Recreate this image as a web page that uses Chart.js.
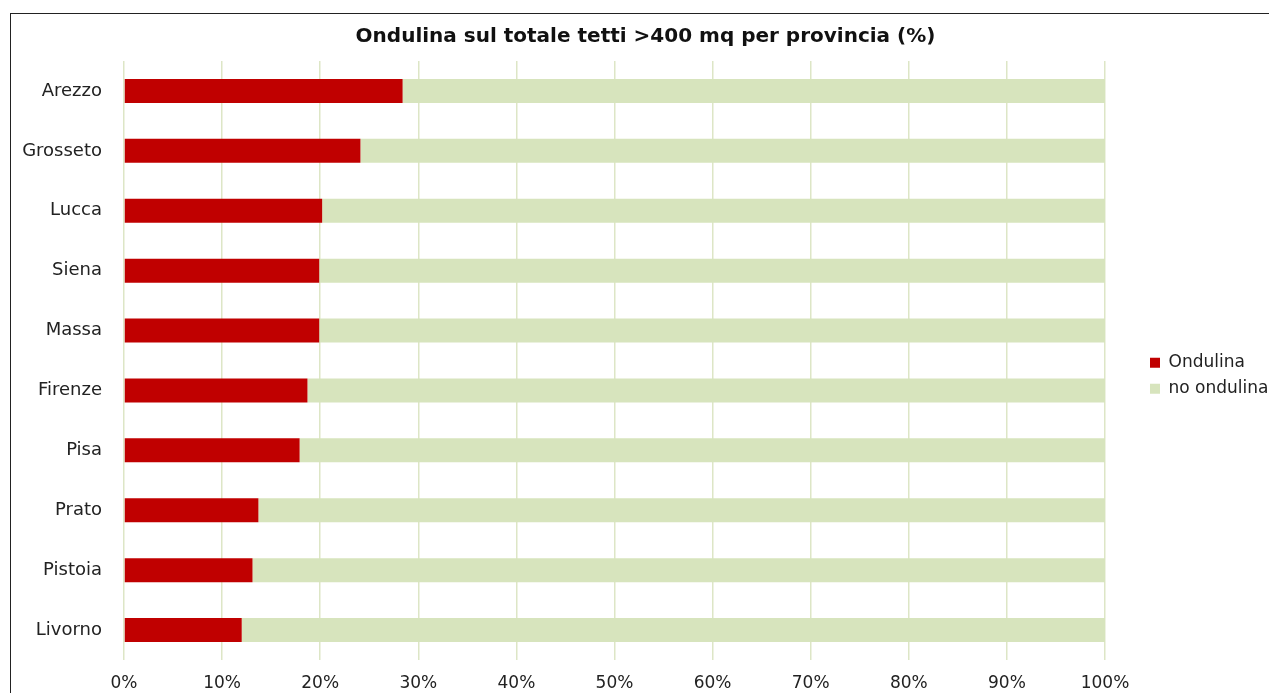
<!DOCTYPE html>
<html>
<head>
<meta charset="utf-8">
<script src="https://cdn.jsdelivr.net/npm/chart.js@4.4.0/dist/chart.umd.min.js"></script>
<style>
  html, body { margin: 0; padding: 0; background: #fff; }
  #wrap { position: relative; width: 1269px; height: 693px; }
  #frame {
    position: absolute; left: 10px; top: 13px; right: -4px; bottom: -4px;
    border: 1.5px solid #222; pointer-events: none;
  }
</style>
</head>
<body>
<div id="wrap">
  <canvas id="roofChart" width="1269" height="693"></canvas>
  <div id="frame"></div>
</div>
<script>
const provinces = ['Arezzo', 'Grosseto', 'Lucca', 'Siena', 'Massa', 'Firenze', 'Pisa', 'Prato', 'Pistoia', 'Livorno'];
const ondulina = [28.4, 24.1, 20.2, 19.9, 19.9, 18.7, 17.9, 13.7, 13.1, 12.0];
const noOndulina = ondulina.map(v => +(100 - v).toFixed(1)); // the rest of each bar up to 100%

const font = "'DejaVu Sans', sans-serif";

// push the legend a bit away from the plot, like in the original
const legendShift = {
  id: 'legendShift',
  afterLayout(chart) {
    const lg = chart.legend;
    if (!lg) return;
    lg.left += 36;
    lg.right += 36;
  },
};

const ctx = document.getElementById('roofChart').getContext('2d');
new Chart(ctx, {
  type: 'bar',
  data: {
    labels: provinces,
    datasets: [
      {
        label: 'Ondulina',
        data: ondulina,
        backgroundColor: '#c00000',
        barPercentage: 0.4,
        categoryPercentage: 1,
      },
      {
        label: 'no ondulina',
        data: noOndulina,
        backgroundColor: '#d7e4bd',
        barPercentage: 0.4,
        categoryPercentage: 1,
      },
    ],
  },
  options: {
    indexAxis: 'y',
    responsive: false,
    animation: false,
    layout: { padding: { left: 22, top: 20, right: 0, bottom: 0 } },
    plugins: {
      title: {
        display: true,
        text: 'Ondulina sul totale tetti >400 mq per provincia (%)',
        color: '#111',
        font: { family: font, size: 20, weight: 'bold' },
        padding: { top: 5, bottom: 12 },
      },
      legend: {
        position: 'right',
        // empty legend title only pushes the two items down a little
        title: { display: true, text: ' ', font: { size: 12 }, padding: 12 },
        labels: {
          color: '#222',
          font: { family: font, size: 17 },
          boxWidth: 10,
          boxHeight: 10,
          padding: 9,
        },
      },
      tooltip: { enabled: false },
    },
    scales: {
      x: {
        stacked: true,
        min: 0,
        max: 100,
        ticks: {
          stepSize: 10,
          color: '#222',
          padding: 13,
          font: { family: font, size: 17 },
          callback: v => v + '%',
        },
        grid: { color: '#dde6c6', lineWidth: 1.5, drawTicks: false },
        border: { display: false },
        afterFit: scale => {
          scale.paddingRight = 164;
          scale.height = 33;
        },
      },
      y: {
        stacked: true,
        ticks: {
          color: '#222',
          padding: 22,
          font: { family: font, size: 18 },
        },
        grid: { display: false, drawTicks: false },
        border: { display: false },
        afterFit: scale => { scale.width = 102; },
      },
    },
  },
  plugins: [legendShift],
});
</script>
</body>
</html>
